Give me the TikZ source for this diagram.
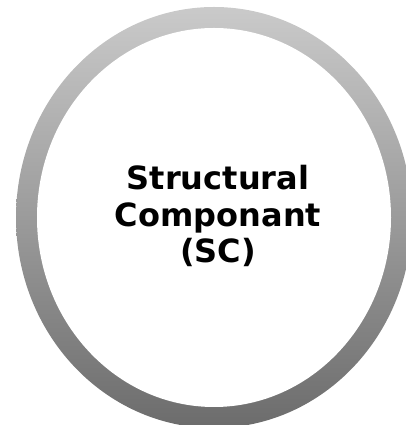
\documentclass[tikz,border=0pt]{standalone}
\usepackage{fontspec}
\setmainfont{DejaVu Sans}
\begin{document}
\begin{tikzpicture}[x=1pt,y=1pt,
  ringshade/.style={top color=ringtop,bottom color=ringbot},
  labeltext/.style={font=\fontsize{32}{36.5}\selectfont\bfseries,align=center,text=black}]
\definecolor{ringtop}{RGB}{202,202,202}
\definecolor{ringbot}{RGB}{108,108,108}
\useasboundingbox (0,0) rectangle (405,425);
\shade[ringshade] (214,207.5) ellipse [x radius=198,y radius=210.5];
\fill[white] (214,207.5) ellipse [x radius=177,y radius=189.5];
\node[labeltext] (sc) at (218,209) {Structural\\Componant\\(SC)};
\end{tikzpicture}
\end{document}
